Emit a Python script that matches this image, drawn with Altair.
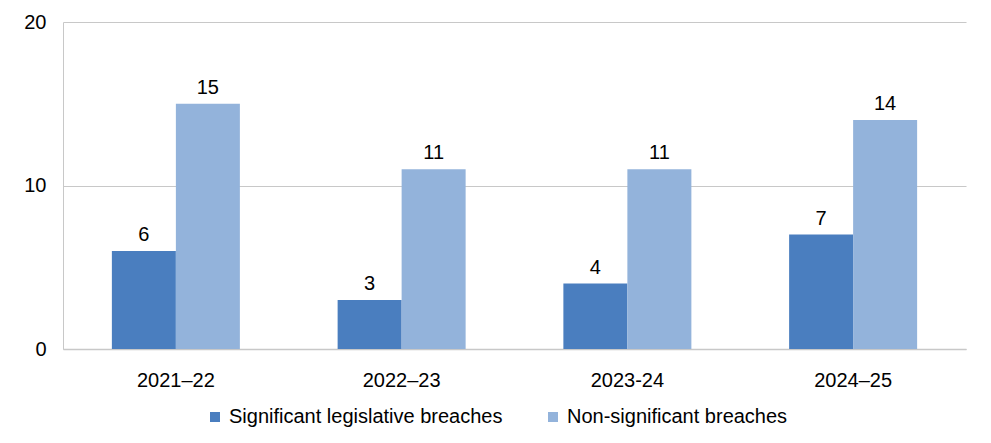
import altair as alt
import pandas as pd

years = ["2021–22", "2022–23", "2023-24", "2024–25"]
series = ["Significant legislative breaches", "Non-significant breaches"]
significant = [6, 3, 4, 7]
non_significant = [15, 11, 11, 14]
colors = ["#4a7ebf", "#93b3db"]

rows = []
for i, y in enumerate(years):
    rows.append({"year": y, "series": series[0], "value": significant[i]})
    rows.append({"year": y, "series": series[1], "value": non_significant[i]})
df = pd.DataFrame(rows)

FONT = "Liberation Sans"
FS = 20

x = alt.X("year:N", sort=years, title=None,
          scale=alt.Scale(paddingInner=0.433, paddingOuter=0.2165),
          axis=alt.Axis(labelAngle=0, labelFontSize=FS, labelColor="#000000",
                        labelFont=FONT, ticks=False, domainColor="#c8c8c8",
                        domainWidth=1.5, labelPadding=21))
xo = alt.XOffset("series:N", sort=series, scale=alt.Scale(paddingInner=0, paddingOuter=0))
y = alt.Y("value:Q", title=None,
          scale=alt.Scale(domain=[0, 20]),
          axis=alt.Axis(values=[0, 10, 20], labelFontSize=FS, labelColor="#000000",
                        labelFont=FONT, ticks=False, domainColor="#c8c8c8",
                        gridColor="#c8c8c8", gridWidth=1.2, labelPadding=17))

color = alt.Color("series:N", sort=series,
                  scale=alt.Scale(domain=series, range=colors),
                  legend=alt.Legend(title=None, orient="none", direction="horizontal",
                                    legendX=142, legendY=385,
                                    symbolType="square", symbolSize=100,
                                    symbolStrokeWidth=0, labelFontSize=FS,
                                    labelFont=FONT, labelColor="#000000",
                                    labelOffset=4, columnPadding=40,
                                    labelLimit=500))

bars = alt.Chart(df).mark_bar().encode(x=x, xOffset=xo, y=y, color=color)
labels = alt.Chart(df).mark_text(baseline="alphabetic", dy=-10, fontSize=FS,
                                 font=FONT, color="#000000").encode(
    x=x, xOffset=xo, y=y, text="value:Q")

chart = (bars + labels).properties(
    width=903, height=327,
    autosize=alt.AutoSizeParams(type="none"),
    padding={"left": 55, "top": 14, "right": 17, "bottom": 80},
).configure_view(stroke=None).configure_axis(grid=False).configure_axisY(grid=True)

chart.save("out.html", embed_options={"renderer": "svg", "actions": False})
